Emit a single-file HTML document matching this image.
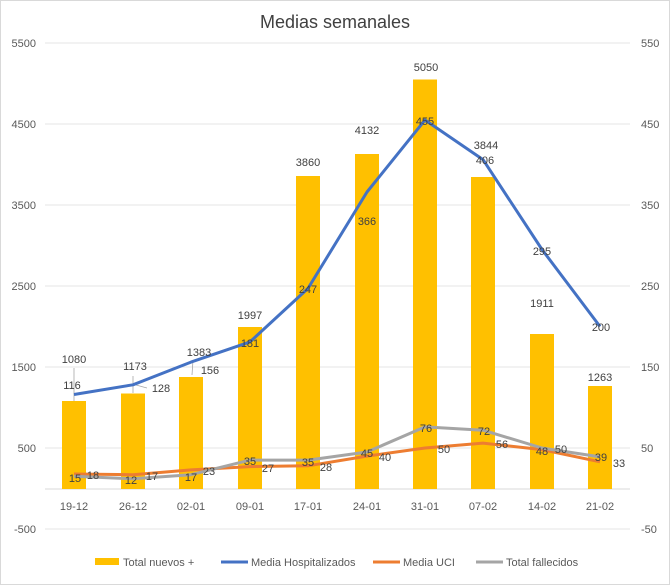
<!DOCTYPE html>
<html><head><meta charset="utf-8"><style>body{margin:0;background:#fff}svg{display:block;font-family:"Liberation Sans",sans-serif}</style></head><body>
<svg width="670" height="585" viewBox="0 0 670 585">
<rect x="0.5" y="0.5" width="669" height="584" fill="#fff" stroke="#d9d9d9"/>
<text x="335" y="28" font-size="18" fill="#404040" text-anchor="middle">Medias semanales</text>
<g stroke="#e6e6e6" stroke-width="1">
<line x1="45" x2="630" y1="43" y2="43"/><line x1="45" x2="630" y1="124" y2="124"/><line x1="45" x2="630" y1="205" y2="205"/><line x1="45" x2="630" y1="286" y2="286"/><line x1="45" x2="630" y1="367" y2="367"/><line x1="45" x2="630" y1="448" y2="448"/><line x1="45" x2="630" y1="529" y2="529"/>
</g>
<line x1="45" x2="630" y1="489" y2="489" stroke="#d9d9d9"/>
<g font-size="11" fill="#595959" text-anchor="end">
<text x="36" y="47">5500</text><text x="36" y="128">4500</text><text x="36" y="209">3500</text><text x="36" y="290">2500</text><text x="36" y="371">1500</text><text x="36" y="452">500</text><text x="36" y="533">-500</text>
</g>
<g font-size="11" fill="#595959" text-anchor="start">
<text x="641" y="47">550</text><text x="641" y="128">450</text><text x="641" y="209">350</text><text x="641" y="290">250</text><text x="641" y="371">150</text><text x="641" y="452">50</text><text x="641" y="533">-50</text>
</g>
<g fill="#ffc000">
<rect x="62" y="401" width="24" height="88"/><rect x="121" y="393.5" width="24" height="95.5"/><rect x="179" y="377" width="24" height="112"/><rect x="238" y="327" width="24" height="162"/><rect x="296" y="176" width="24" height="313"/><rect x="355" y="154" width="24" height="335"/><rect x="413" y="79.5" width="24" height="409.5"/><rect x="471" y="177" width="24" height="312"/><rect x="530" y="334" width="24" height="155"/><rect x="588" y="386" width="24" height="103"/>
</g>
<g font-size="11" fill="#595959" text-anchor="middle">
<text x="74" y="510">19-12</text><text x="133" y="510">26-12</text><text x="191" y="510">02-01</text><text x="250" y="510">09-01</text><text x="308" y="510">17-01</text><text x="367" y="510">24-01</text><text x="425" y="510">31-01</text><text x="483" y="510">07-02</text><text x="542" y="510">14-02</text><text x="600" y="510">21-02</text>
</g>
<g stroke="#a6a6a6" stroke-width="0.8" fill="none">
<line x1="74" y1="368" x2="74" y2="401"/><line x1="133" y1="376" x2="133" y2="393"/><line x1="136" y1="385" x2="147" y2="388"/><line x1="192" y1="375" x2="193" y2="360"/>
</g>
<polyline fill="none" stroke="#4472c4" stroke-width="3" stroke-linejoin="round" points="74,394.5 133,384.8 191,362.1 250,341.9 308,288.4 367,192 425,120 483,159.6 542,249.5 600,326.5"/>
<polyline fill="none" stroke="#ed7d31" stroke-width="3" stroke-linejoin="round" points="74,474 133,474.7 191,469.9 250,466.6 308,465.8 367,456.1 425,448 483,443.1 542,449.6 600,461.8"/>
<polyline fill="none" stroke="#a5a5a5" stroke-width="3" stroke-linejoin="round" points="74,476.3 133,478.8 191,474.7 250,460.1 308,460.1 367,452 425,426.9 483,430.2 542,448 600,456.9"/>
<g font-size="11" fill="#404040" text-anchor="middle">
<text x="74" y="363">1080</text><text x="135" y="370">1173</text><text x="199" y="356">1383</text><text x="250" y="319">1997</text><text x="308" y="166">3860</text><text x="367" y="134">4132</text><text x="426" y="71">5050</text><text x="486" y="149">3844</text><text x="542" y="307">1911</text><text x="600" y="381">1263</text>
<text x="72" y="389">116</text><text x="161" y="392">128</text><text x="210" y="374">156</text><text x="250" y="347">181</text><text x="308" y="293">247</text><text x="367" y="225">366</text><text x="425" y="125">455</text><text x="485" y="164">406</text><text x="542" y="255">295</text><text x="601" y="331">200</text>
<text x="75" y="482">15</text><text x="93" y="479">18</text><text x="131" y="484">12</text><text x="152" y="480">17</text><text x="191" y="481">17</text><text x="209" y="475">23</text><text x="250" y="465">35</text><text x="268" y="472">27</text><text x="308" y="466">35</text><text x="326" y="471">28</text><text x="367" y="457">45</text><text x="385" y="461">40</text><text x="426" y="432">76</text><text x="444" y="453">50</text><text x="484" y="435">72</text><text x="502" y="448">56</text><text x="542" y="455">48</text><text x="561" y="453">50</text><text x="601" y="461">39</text><text x="619" y="467">33</text>
</g>
<g font-size="11" fill="#595959">
<rect x="95" y="558" width="24" height="7" fill="#ffc000"/><text x="123" y="566">Total nuevos +</text>
<line x1="221" x2="248" y1="562" y2="562" stroke="#4472c4" stroke-width="3"/><text x="251" y="566">Media Hospitalizados</text>
<line x1="373" x2="400" y1="562" y2="562" stroke="#ed7d31" stroke-width="3"/><text x="403" y="566">Media UCI</text>
<line x1="476" x2="503" y1="562" y2="562" stroke="#a5a5a5" stroke-width="3"/><text x="506" y="566">Total fallecidos</text>
</g>
</svg>
</body></html>
